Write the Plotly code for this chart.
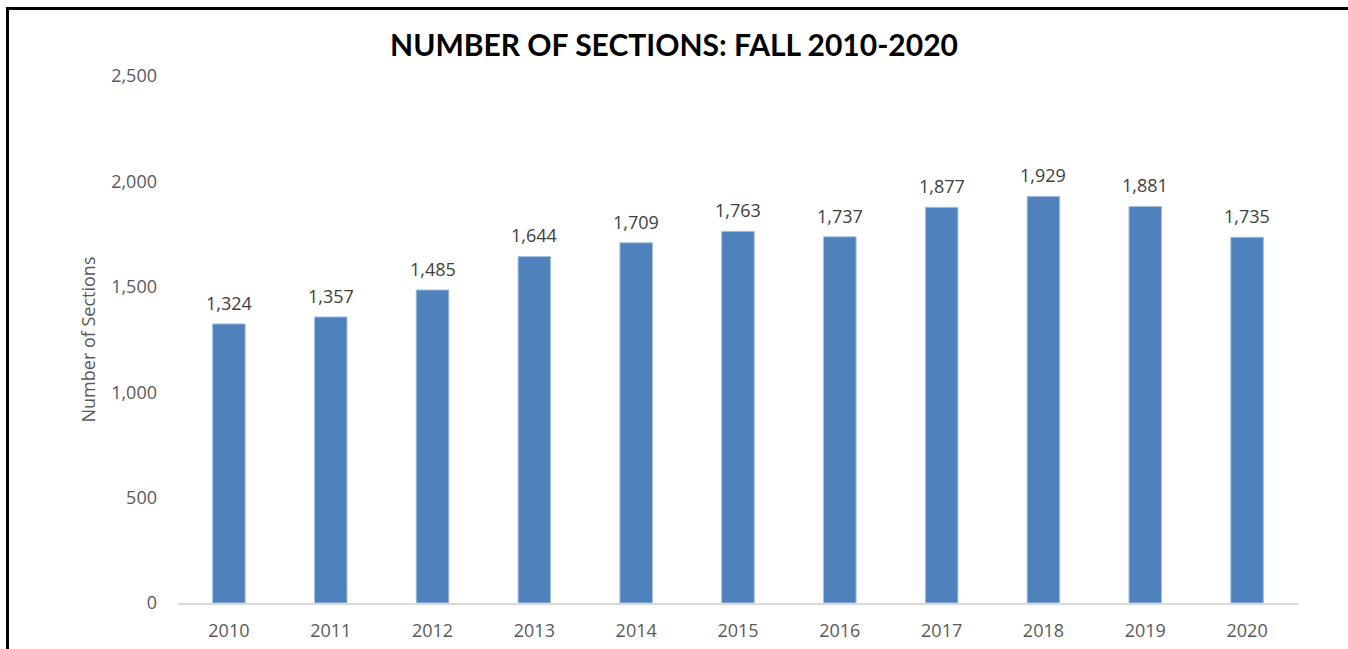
import plotly.graph_objects as go

years = ["2010", "2011", "2012", "2013", "2014", "2015", "2016", "2017", "2018", "2019", "2020"]
sections = [1324, 1357, 1485, 1644, 1709, 1763, 1737, 1877, 1929, 1881, 1735]
y_ticks = [0, 500, 1000, 1500, 2000, 2500]
y_ticktext = ["0", "500", "1,000", "1,500", "2,000", "2,500"]

W, H = 1348, 649
L, R, T, B = 178, 50, 76, 46
pw, ph = W - L - R, H - T - B

def px_x(x):
    return (x - L) / pw

def px_y(y):
    return (H - B - y) / ph

fig = go.Figure()
fig.add_trace(go.Bar(
    x=years, y=sections,
    marker=dict(color="#4F81BD", line=dict(color="#A7C0DE", width=1)),
    width=0.32,
    hoverinfo="x+y",
))

for i, v in enumerate(sections):
    fig.add_annotation(x=i, y=v, text=f"{v:,}", showarrow=False,
                       yanchor="bottom", yshift=7,
                       font=dict(family="Open Sans", size=18, color="#404040"))

# outer frame (left and top)
fig.add_shape(type="line", xref="paper", yref="paper",
              x0=px_x(7.5), x1=px_x(7.5), y0=px_y(8.5), y1=px_y(655),
              line=dict(color="black", width=3))
fig.add_shape(type="line", xref="paper", yref="paper",
              x0=px_x(6), x1=px_x(1352), y0=px_y(8.5), y1=px_y(8.5),
              line=dict(color="black", width=3))

fig.update_layout(
    width=W, height=H,
    margin=dict(l=L, r=R, t=T, b=B, autoexpand=False),
    paper_bgcolor="white", plot_bgcolor="white",
    showlegend=False,
    title=dict(text="<b>NUMBER OF SECTIONS: FALL 2010-2020</b>",
               x=0.5, xref="container", xanchor="center",
               y=(H - 45) / H, yanchor="middle", yref="container",
               font=dict(family="Lato", size=30, color="black")),
    xaxis=dict(type="category", showgrid=False, showline=True, linecolor="#D9D9D9", linewidth=2,
               ticks="", tickfont=dict(family="Open Sans", size=18, color="#595959"),
               ticklabelstandoff=10, automargin=False),
    yaxis=dict(range=[0, 2500], tickvals=y_ticks, ticktext=y_ticktext, showgrid=False,
               zeroline=False, showline=False, ticks="", automargin=False,
               tickfont=dict(family="Open Sans", size=18, color="#595959"),
               ticklabelstandoff=20,
               title=dict(text="Number of Sections", standoff=10,
                          font=dict(family="Open Sans", size=18, color="#595959"))),
    bargap=0.68,
)

fig.write_html("out.html", config={"displayModeBar": False},
               post_script="document.body.style.margin='0';")
